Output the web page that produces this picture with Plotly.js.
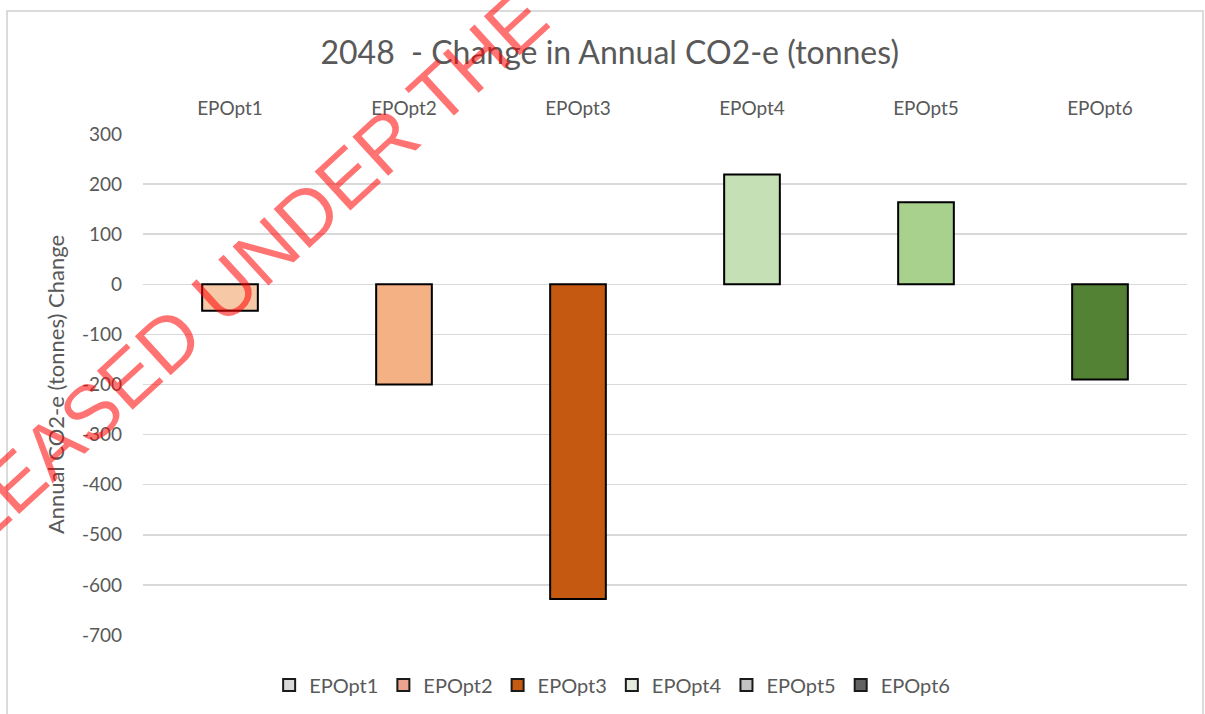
<!DOCTYPE html>
<html>
<head>
<meta charset="utf-8">
<script src="https://cdn.plot.ly/plotly-3.0.1.min.js"></script>
<style>html,body{margin:0;padding:0;background:#fff;}#chart{width:1205px;height:714px;}</style>
</head>
<body>
<div id="chart"></div>
<script>
// Data
const categories = ["EPOpt1", "EPOpt2", "EPOpt3", "EPOpt4", "EPOpt5", "EPOpt6"];
const changeValues = [-53, -200, -628, 219, 164, -190];
const barColors = ["#f6c8a6", "#f4b183", "#c65911", "#c5e0b4", "#a9d18e", "#548235"];
const legendColors = ["#d9d9d9", "#eba58e", "#c55a11", "#e2ebdc", "#c3c3c3", "#626262"];
const yTicks = [300, 200, 100, 0, -100, -200, -300, -400, -500, -600, -700];

const FONT = "Lato, 'Open Sans', sans-serif";
const TXT = "#595959";

const traces = [{
  type: "bar",
  x: categories,
  y: changeValues,
  width: 0.32,
  marker: { color: barColors, line: { color: "#000000", width: 2 } },
  showlegend: false,
  hoverinfo: "x+y"
}];
categories.forEach((c, i) => {
  traces.push({
    type: "bar",
    name: c,
    x: [c],
    y: [null],
    marker: { color: legendColors[i], line: { color: "#1a1a1a", width: 2 } },
    showlegend: true
  });
});

const layout = {
  width: 1205,
  height: 714,
  margin: { l: 143, r: 18, t: 134, b: 79 },
  paper_bgcolor: "#ffffff",
  plot_bgcolor: "#ffffff",
  barmode: "overlay",
  font: { family: FONT, color: TXT, size: 19 },
  title: {
    text: "2048  - Change in Annual CO2-e (tonnes)",
    font: { family: FONT, size: 32, color: TXT },
    xref: "container", x: 0.506, xanchor: "center",
    yref: "container", y: 1 - 53 / 714, yanchor: "middle"
  },
  xaxis: {
    side: "top",
    type: "category",
    showgrid: false,
    zeroline: false,
    showline: false,
    ticks: "",
    ticklabelstandoff: 14,
    tickfont: { family: FONT, size: 19, color: TXT },
    fixedrange: true
  },
  yaxis: {
    range: [-700, 300],
    tickvals: yTicks,
    ticktext: yTicks.map(v => String(v)),
    showgrid: true,
    gridcolor: "#d9d9d9",
    gridwidth: 1.5,
    zeroline: false,
    showline: false,
    ticks: "",
    ticklabelstandoff: 20,
    tickfont: { family: FONT, size: 19, color: TXT },
    title: {
      text: "Annual CO2-e (tonnes) Change",
      font: { family: FONT, size: 22, color: TXT },
      standoff: 11
    },
    fixedrange: true
  },
  legend: {
    orientation: "h",
    xref: "container", x: 0.508, xanchor: "center",
    yref: "container", y: 1 - 685 / 714, yanchor: "middle",
    font: { family: FONT, size: 20, color: TXT },
    itemwidth: 30,
    traceorder: "normal"
  },
  shapes: [{
    type: "rect", xref: "paper", yref: "paper",
    x0: (7 - 143) / 1044, x1: (1203 - 143) / 1044,
    y0: (635 - 740) / 501, y1: (635 - 11) / 501,
    line: { color: "#d0d0d0", width: 1.5 },
    fillcolor: "rgba(0,0,0,0)",
    layer: "below"
  }],
  annotations: [{
    text: "RELEASED UNDER THE OFFICIAL INFORMATION ACT",
    xref: "paper", yref: "paper",
    x: (612 - 143) / 1044, y: (635 + 66) / 501,
    xanchor: "center", yanchor: "middle",
    textangle: -42.5,
    showarrow: false,
    font: { family: "'Liberation Sans', Arial, sans-serif", size: 77, color: "rgba(255,0,0,0.55)" }
  }]
};

Plotly.newPlot("chart", traces, layout, { displayModeBar: false, staticPlot: true });
</script>
</body>
</html>
